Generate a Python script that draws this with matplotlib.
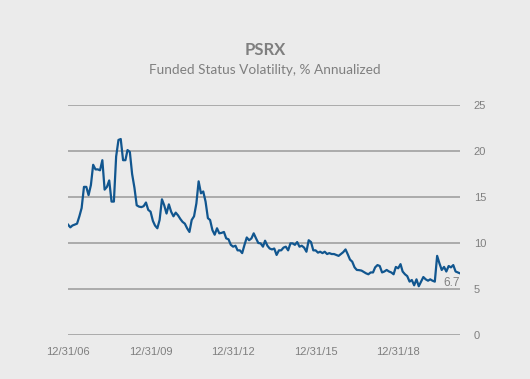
import matplotlib
matplotlib.use('Agg')
import matplotlib.pyplot as plt
import matplotlib.dates as mdates
import pandas as pd

# Volatilidade mensal do funded status (% anualizado), dez/2006 a mar/2021
start_date = '2006-12-31'
volatility = [
    12.0, 11.7, 11.9, 12.0, 12.1, 12.9, 13.8, 16.1, 16.1, 15.2,
    16.3, 18.5, 18.0, 18.0, 17.9, 19.0, 15.8, 16.1, 16.8, 14.5,
    14.5, 19.4, 21.2, 21.3, 19.0, 19.0, 20.1, 19.9, 17.5, 16.0,
    14.1, 13.95, 13.9, 14.0, 14.4, 13.6, 13.4, 12.4, 11.9, 11.6,
    12.5, 14.75, 14.1, 13.2, 14.2, 13.4, 12.9, 13.3, 13.0, 12.6,
    12.3, 12.1, 11.6, 11.2, 12.5, 12.9, 14.3, 16.7, 15.4, 15.6,
    14.5, 12.7, 12.5, 11.4, 10.9, 11.6, 11.05, 11.1, 11.2, 10.5,
    10.4, 9.8, 9.6, 9.7, 9.2, 9.2, 8.9, 9.8, 10.6, 10.3,
    10.5, 11.05, 10.5, 10.0, 9.96, 9.6, 10.25, 9.7, 9.4, 9.3,
    9.4, 8.7, 9.2, 9.2, 9.5, 9.6, 9.2, 9.96, 9.96, 9.8,
    10.1, 9.6, 9.7, 9.5, 9.05, 10.3, 10.1, 9.2, 9.2, 8.95,
    9.05, 8.9, 9.05, 8.8, 8.9, 8.8, 8.8, 8.7, 8.6, 8.8,
    9.0, 9.3, 8.8, 8.2, 7.97, 7.35, 7.07, 7.05, 7.0, 6.85,
    6.7, 6.6, 6.8, 6.8, 7.35, 7.6, 7.5, 6.8, 6.9, 7.07,
    6.9, 6.8, 6.6, 7.4, 7.25, 7.7, 6.9, 6.6, 6.4, 5.8,
    5.98, 5.4, 6.05, 5.3, 5.8, 6.3, 6.05, 5.9, 6.05, 5.9,
    5.8, 8.6, 7.8, 7.07, 7.4, 6.9, 7.5, 7.35, 7.6, 6.9,
    6.8, 6.7,
]
tick_dates = ['2006-12-31', '2009-12-31', '2012-12-31', '2015-12-31', '2018-12-31']
y_ticks = [0, 5, 10, 15, 20, 25]

datas = pd.date_range(start_date, periods=len(volatility), freq='ME')

bg = '#EBEBEB'
cinza = '#7F7F7F'

fig = plt.figure(figsize=(5.3, 3.79), dpi=100, facecolor=bg)
ax = fig.add_axes([0.1283, 0.1161, 0.7397, 0.6069], facecolor=bg)

ax.plot(datas, volatility, color='#11568F', lw=1.6, zorder=3)

ax.set_ylim(0, 25)
ax.set_xlim(datas[0], datas[-1])
ax.set_yticks(y_ticks)
ax.yaxis.tick_right()
ax.grid(axis='y', color='#A6A6A6', lw=1.3)
ax.set_axisbelow(True)
for s in ax.spines.values():
    s.set_visible(False)

ax.set_xticks(pd.to_datetime(tick_dates))
ax.xaxis.set_major_formatter(mdates.DateFormatter('%m/%d/%y'))
ax.tick_params(axis='both', length=0, labelcolor=cinza, labelsize=8)
ax.tick_params(axis='y', pad=10)
ax.tick_params(axis='x', pad=9)
for lbl in ax.get_xticklabels() + ax.get_yticklabels():
    lbl.set_fontfamily('Liberation Sans')

# rótulo do último valor
ax.annotate(f'{volatility[-1]:.1f}', xy=(datas[-1], volatility[-1]),
            xytext=(0, -2.5), textcoords='offset points', ha='right', va='top',
            color=cinza, fontsize=8.5, family='Liberation Sans')

fig.text(0.5, 0.868, 'PSRX', ha='center', va='center', fontsize=12,
         fontweight='bold', color=cinza, family='Lato')
fig.text(0.5, 0.815, 'Funded Status Volatility, % Annualized', ha='center',
         va='center', fontsize=9.8, color=cinza, family='Lato')

fig.savefig('out.png', dpi=100, facecolor=bg)
